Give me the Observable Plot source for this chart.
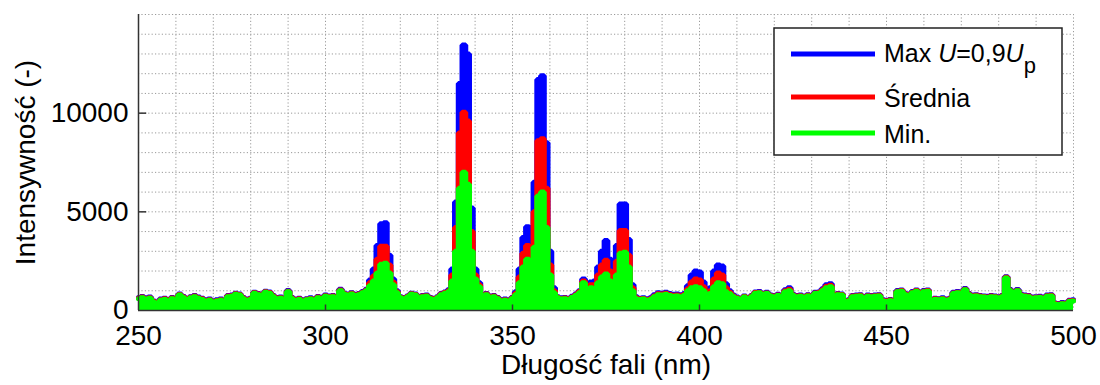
<!DOCTYPE html>
<html><head><meta charset="utf-8">
<script src="https://cdn.jsdelivr.net/npm/d3@7"></script>
<script src="https://cdn.jsdelivr.net/npm/@observablehq/plot@0.6"></script>
<style>html,body{margin:0;padding:0;background:#fff;} svg{display:block;}</style>
</head><body><div id="chart"></div>
<script>
// wavelength grid: 250 .. 500 nm, one value per nm
const wavelengthStart = 250;
const xTicks = [250, 300, 350, 400, 450, 500];
const yTicks = [0, 5000, 10000];
const seriesNames = ["Max U=0,9Up", "Średnia", "Min."];
const seriesColors = ["#0000ff", "#ff0000", "#00ff00"];

const minValues = [
600,650,580,620,420,300,520,560,480,600,
540,780,650,560,640,700,620,560,480,520,
430,480,520,440,700,720,820,780,600,520,
560,870,800,600,920,880,700,600,620,560,
950,600,520,560,480,540,580,520,650,560,
720,680,700,640,1000,820,780,840,760,800,
900,1000,1250,1500,1900,2350,2400,1900,1300,900,
640,600,680,820,780,640,700,720,600,560,
640,800,880,950,1500,3000,6200,7000,6400,3000,
1600,1200,700,800,620,700,600,480,520,440,
600,800,1400,2200,2600,1800,3200,5800,6000,4200,
1800,900,640,580,600,560,660,760,900,1400,
1100,1150,1100,1400,1700,1850,1500,1050,1800,2900,
2950,2200,1000,600,560,580,520,560,700,800,
780,820,760,720,740,700,760,1000,1150,1200,
1150,1000,800,860,1200,1400,1350,950,850,700,
620,560,680,600,700,880,900,820,860,720,
700,760,680,950,1000,760,700,720,680,740,
700,860,880,1000,1150,1200,400,800,780,460,
480,700,720,740,640,720,700,720,740,480,
460,500,450,950,980,800,460,900,980,720,
950,980,450,560,540,580,520,560,860,900,
880,1050,800,720,740,700,680,660,700,680,
640,700,1650,1000,720,1000,760,720,700,620,
640,660,620,720,740,320,300,340,320,460,
480];

const meanValues = [
630,680,610,650,450,330,550,590,510,630,
570,810,680,590,670,730,650,590,510,550,
460,510,550,470,730,750,850,810,630,550,
590,900,830,630,950,910,730,630,650,590,
980,630,550,590,510,570,610,550,680,590,
750,710,730,670,1040,850,810,870,790,830,
930,1040,1400,1750,2600,3250,3250,2300,1450,950,
670,630,710,850,810,670,730,750,630,590,
670,830,910,1000,1800,4200,9000,10050,9600,4000,
1800,1300,730,830,650,730,630,510,550,470,
630,880,1700,2900,3300,3000,5000,8600,8700,6200,
2300,1000,670,610,630,590,690,800,960,1500,
1200,1300,1300,1800,2300,2550,2000,1200,2500,4050,
4050,2800,1150,650,590,610,560,600,740,850,
830,870,810,770,790,750,810,1100,1450,1600,
1550,1200,900,1000,1600,1900,1800,1150,920,740,
650,590,710,630,730,910,930,850,890,750,
730,790,710,1000,1080,790,730,750,710,770,
730,890,910,1050,1230,1280,430,830,810,490,
510,730,750,770,670,750,730,750,770,510,
490,530,480,980,1010,830,490,930,1010,750,
980,1010,480,590,570,610,550,590,890,930,
910,1080,830,750,770,730,710,690,730,710,
670,730,1680,1030,750,1030,790,750,730,650,
670,690,650,750,770,350,330,370,350,490,
510];

const maxValues = [
660,710,640,680,480,360,580,620,540,660,
600,840,710,620,700,760,680,620,540,580,
490,540,580,500,760,780,880,840,660,580,
620,930,860,660,980,940,760,660,680,620,
1010,660,580,620,540,600,640,580,710,620,
780,740,760,700,1080,880,840,900,820,860,
960,1080,1550,2100,3300,4400,4450,2800,1600,1000,
700,660,740,880,840,700,760,780,660,620,
700,860,940,1050,2100,5500,11500,13450,13000,5200,
2100,1400,760,860,680,760,660,540,580,500,
660,950,2100,3700,4250,4000,6500,11700,11900,8500,
3000,1150,700,640,660,620,720,840,1000,1600,
1350,1450,1500,2200,3000,3550,2600,1450,3300,5400,
5400,3600,1300,700,620,640,600,640,800,900,
880,920,860,820,840,800,860,1250,1800,2000,
1950,1450,1050,1150,2000,2300,2250,1350,1000,780,
680,620,740,660,760,940,960,880,920,780,
760,820,740,1050,1150,820,760,780,740,800,
760,920,940,1100,1300,1350,460,860,840,520,
540,760,780,800,700,780,760,780,800,540,
520,560,510,1010,1040,860,520,960,1040,780,
1010,1040,510,620,600,640,580,620,920,960,
940,1110,860,780,800,760,740,720,760,740,
700,760,1710,1060,780,1060,820,780,760,680,
700,720,680,780,800,380,360,400,380,520,
540];

const toRows = (arr, name) => arr.map((v, i) => ({series: name, wl: wavelengthStart + i, value: v}));
const maxRows = toRows(maxValues, seriesNames[0]);
const meanRows = toRows(meanValues, seriesNames[1]);
const minRows = toRows(minValues, seriesNames[2]);

const gridXValues = d3.range(250, 501, 10);
const gridYValues = d3.range(1000, 15001, 1000);
const FONT = "'Liberation Sans', Arial, Helvetica, sans-serif";

const lineOpts = {x: "wl", y: "value", strokeWidth: 5, curve: "step", strokeLinejoin: "miter"};
const areaOpts = {x: "wl", y: "value", curve: "step"};

const chart = Plot.plot({
  width: 1100, height: 385,
  marginLeft: 138, marginRight: 27, marginTop: 14, marginBottom: 75,
  style: {fontFamily: FONT, fontSize: "28px", color: "#000", background: "#fff", overflow: "visible"},
  x: {domain: [250, 500]},
  y: {domain: [0, 15000]},
  marks: [
    Plot.gridX(gridXValues, {stroke: "#9a9a9a", strokeOpacity: 1, strokeDasharray: "1.2,2.2", strokeWidth: 1}),
    Plot.gridY(gridYValues, {stroke: "#9a9a9a", strokeOpacity: 1, strokeDasharray: "1.2,2.2", strokeWidth: 1}),
    Plot.areaY(maxRows, {...areaOpts, fill: seriesColors[0]}),
    Plot.line(maxRows, {...lineOpts, stroke: seriesColors[0]}),
    Plot.areaY(meanRows, {...areaOpts, fill: seriesColors[1]}),
    Plot.line(meanRows, {...lineOpts, stroke: seriesColors[1]}),
    Plot.areaY(minRows, {...areaOpts, fill: seriesColors[2]}),
    Plot.line(minRows, {...lineOpts, stroke: seriesColors[2]}),
    Plot.ruleX([250], {stroke: "#333", strokeWidth: 1.5}),
    Plot.ruleY([0], {stroke: "#333", strokeWidth: 1.5}),
    Plot.ruleX(xTicks.slice(1, -1), {y1: 0, y2: 280, stroke: "#333", strokeWidth: 1.5}),
    Plot.ruleY(yTicks.slice(1), {x1: 250, x2: 252.2, stroke: "#333", strokeWidth: 1.5}),
    Plot.axisX(xTicks, {tickSize: 0, tickPadding: 15, fontSize: 28, label: null, tickFormat: d => String(d)}),
    Plot.axisY(yTicks, {tickSize: 0, tickPadding: 10, fontSize: 28, label: null, tickFormat: d => String(d)}),
    Plot.text(["Długość fali (nm)"], {text: d => d, frameAnchor: "bottom", textAnchor: "middle", dy: 63, fontSize: 28, fill: "#000"}),
    Plot.text(["Intensywność (-)"], {text: d => d, frameAnchor: "left", textAnchor: "middle", dx: -112, rotate: -90, fontSize: 28, fill: "#000"})
  ]
});
document.getElementById("chart").appendChild(chart);

// legend box
const svg = d3.select(chart);
const lg = svg.append("g").attr("font-family", FONT).attr("font-size", 25).attr("fill", "#000").attr("text-anchor", "start");
lg.append("rect").attr("x", 774).attr("y", 28).attr("width", 288).attr("height", 127)
  .attr("fill", "#fff").attr("stroke", "#222").attr("stroke-width", 1.5);
const legendY = [54, 97, 133];
seriesColors.forEach((c, i) => {
  lg.append("line").attr("x1", 791).attr("x2", 875).attr("y1", legendY[i]).attr("y2", legendY[i])
    .attr("stroke", c).attr("stroke-width", 5);
});
const t0 = lg.append("text").attr("x", 884).attr("y", 62).attr("text-anchor", "start");
t0.append("tspan").text("Max ");
t0.append("tspan").attr("font-style", "italic").text("U");
t0.append("tspan").text("=0,9");
t0.append("tspan").attr("font-style", "italic").text("U");
t0.append("tspan").attr("font-size", 22).attr("dy", 11).text("p");
lg.append("text").attr("x", 884).attr("y", 107).attr("text-anchor", "start").text("Średnia");
lg.append("text").attr("x", 884).attr("y", 143).attr("text-anchor", "start").text("Min.");
</script>
</body></html>
